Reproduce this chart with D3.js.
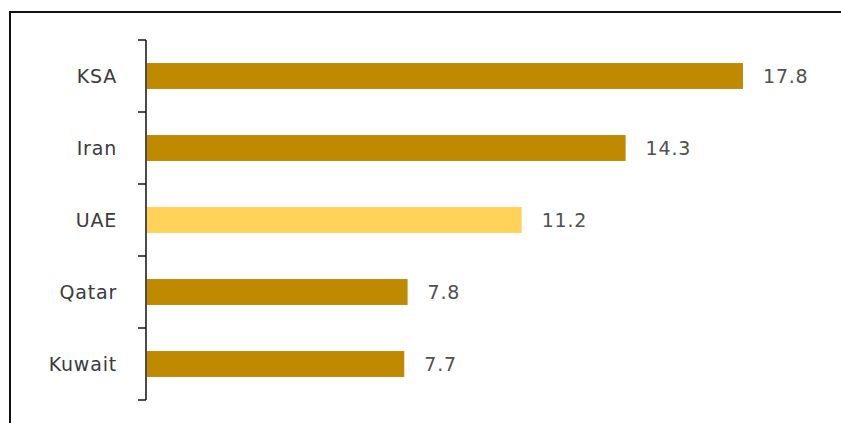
<!DOCTYPE html>
<html>
<head>
<meta charset="utf-8">
<script src="https://cdn.jsdelivr.net/npm/d3@7"></script>
<style>
  body { margin: 0; background: #fff; }
  text { font-family: "DejaVu Sans", Verdana, sans-serif; }
</style>
</head>
<body>
<div id="chart"></div>
<script>
const countries = ["KSA", "Iran", "UAE", "Qatar", "Kuwait"];
const values = [17.8, 14.3, 11.2, 7.8, 7.7];
const barColors = ["#bf8a00", "#bf8a00", "#ffd25a", "#bf8a00", "#bf8a00"];

const W = 841, H = 423;
const margin = {top: 40, left: 146};
const plotH = 360;

const svg = d3.select("#chart").append("svg")
    .attr("width", W)
    .attr("height", H);

// frame (runs off the right and bottom edges)
svg.append("rect")
    .attr("x", 10).attr("y", 12)
    .attr("width", W).attr("height", H)
    .attr("fill", "none")
    .attr("stroke", "#111")
    .attr("stroke-width", 2);

const g = svg.append("g")
    .attr("transform", "translate(" + margin.left + "," + margin.top + ")");

const x = d3.scaleLinear()
    .domain([0, 17.8])
    .range([0, 597]);

const y = d3.scaleBand()
    .domain(countries)
    .range([0, plotH])
    .paddingInner(0.64)
    .paddingOuter(0.32);

// y axis with ticks between categories
g.append("line")
    .attr("x1", 0).attr("x2", 0)
    .attr("y1", 0).attr("y2", plotH)
    .attr("stroke", "#111").attr("stroke-width", 1.5);

const step = y.step();
g.selectAll("line.tick").data(d3.range(countries.length + 1))
    .enter().append("line")
    .attr("class", "tick")
    .attr("x1", -8).attr("x2", 0)
    .attr("y1", d => d * step)
    .attr("y2", d => d * step)
    .attr("stroke", "#111").attr("stroke-width", 1.5);

g.selectAll("text.cat").data(countries)
    .enter().append("text")
    .attr("class", "cat")
    .attr("x", -29)
    .attr("y", d => y(d) + y.bandwidth() / 2)
    .attr("dy", "0.35em")
    .attr("text-anchor", "end")
    .style("font-size", "19px")
    .style("letter-spacing", "0.8px")
    .attr("fill", "#3a3a3a")
    .text(d => d);

g.selectAll("rect.bar").data(values)
    .enter().append("rect")
    .attr("class", "bar")
    .attr("x", 1)
    .attr("y", (d, i) => y(countries[i]))
    .attr("width", d => x(d) - 1)
    .attr("height", y.bandwidth())
    .attr("fill", (d, i) => barColors[i]);

g.selectAll("text.val").data(values)
    .enter().append("text")
    .attr("class", "val")
    .attr("x", d => x(d) + 20)
    .attr("y", (d, i) => y(countries[i]) + y.bandwidth() / 2)
    .attr("dy", "0.35em")
    .style("font-size", "19px")
    .style("letter-spacing", "0.8px")
    .attr("fill", "#505050")
    .text(d => d.toFixed(1));
</script>
</body>
</html>
